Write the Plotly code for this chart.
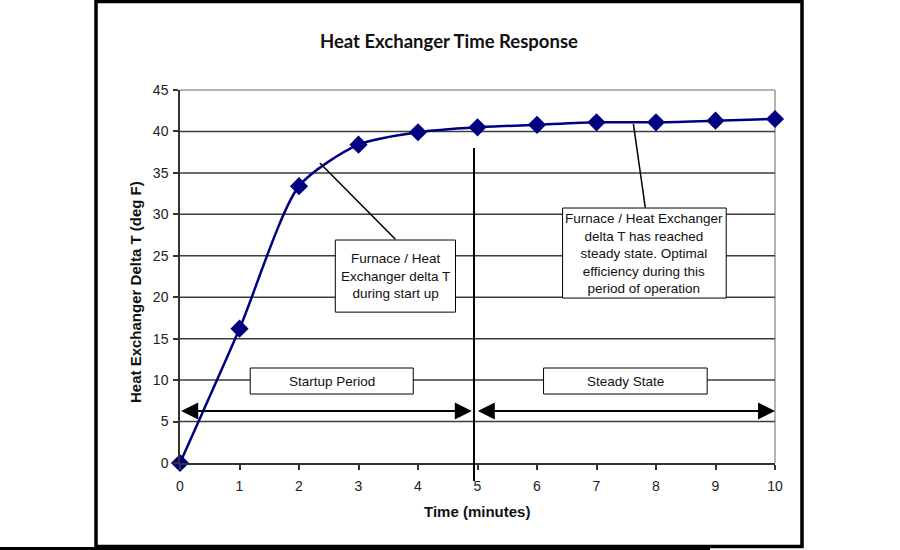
import plotly.graph_objects as go

# ---- data ----
time_min = [0, 1, 2, 3, 4, 5, 6, 7, 8, 9, 10]
delta_t = [0, 16.2, 33.4, 38.4, 39.9, 40.5, 40.8, 41.1, 41.1, 41.3, 41.5]
x_ticks = list(range(0, 11))
y_ticks = [0, 5, 10, 15, 20, 25, 30, 35, 40, 45]

title_text = "Heat Exchanger Time Response"
x_title = "Time (minutes)"
y_title = "Heat Exchanger Delta T (deg F)"
startup_label = "Startup Period"
steady_label = "Steady State"
startup_note = "Furnace / Heat<br>Exchanger delta T<br>during start up"
steady_note = "Furnace / Heat Exchanger<br>delta T has reached<br>steady state. Optimal<br>efficiency during this<br>period of operation"
split_time = 4.95

# plot area in pixels (for converting frame positions)
L, R, T, B = 180, 775, 90, 463
W, H = 900, 550


def px(xp):
    return (xp - L) / (R - L)


def py(yp):
    return (B - yp) / (B - T)


AX_FONT = "Liberation Sans, Arial, sans-serif"

fig = go.Figure()
fig.add_trace(go.Scatter(
    x=time_min, y=delta_t, mode="lines+markers",
    line=dict(color="#000080", width=2.5, shape="spline", smoothing=0.7),
    marker=dict(symbol="diamond", size=14, color="#000080"),
    cliponaxis=False, showlegend=False,
))

shapes = []
# grid lines (dark)
for v in y_ticks[1:-1]:
    shapes.append(dict(type="line", xref="x", yref="y", x0=0, x1=10, y0=v, y1=v,
                       line=dict(color="#3c3c3c", width=1.5), layer="below"))
# top and right border (gray)
shapes.append(dict(type="line", xref="paper", yref="paper", x0=0, x1=1, y0=1, y1=1,
                   line=dict(color="#9a9a9a", width=1.5), layer="below"))
shapes.append(dict(type="line", xref="paper", yref="paper", x0=1, x1=1, y0=0, y1=1,
                   line=dict(color="#9a9a9a", width=1.5), layer="below"))
# vertical divider
shapes.append(dict(type="line", xref="paper", yref="paper", x0=px(474), x1=px(474),
                   y0=py(481), y1=py(148), line=dict(color="black", width=2)))
# label boxes (data coords)
box_line = dict(color="black", width=1)
shapes.append(dict(type="rect", xref="x", yref="y", x0=1.18, x1=3.92, y0=8.32, y1=11.46,
                   line=box_line, fillcolor="white"))
shapes.append(dict(type="rect", xref="x", yref="y", x0=6.11, x1=8.86, y0=8.32, y1=11.46,
                   line=box_line, fillcolor="white"))
shapes.append(dict(type="rect", xref="x", yref="y", x0=2.61, x1=4.63, y0=18.2, y1=26.9,
                   line=box_line, fillcolor="white"))
shapes.append(dict(type="rect", xref="x", yref="y", x0=6.43, x1=9.18, y0=19.9, y1=30.76,
                   line=box_line, fillcolor="white"))
# callout lines
shapes.append(dict(type="line", xref="x", yref="y", x0=2.35, y0=36.2, x1=3.62, y1=27.0,
                   line=dict(color="black", width=1.5)))
shapes.append(dict(type="line", xref="x", yref="y", x0=7.62, y0=40.9, x1=7.82, y1=30.8,
                   line=dict(color="black", width=1.5)))
# outer frame
shapes.append(dict(type="rect", xref="paper", yref="paper", x0=px(96), x1=px(802),
                   y0=py(546.5), y1=py(1.5), line=dict(color="black", width=3.5)))
shapes.append(dict(type="line", xref="paper", yref="paper", x0=px(0), x1=px(710),
                   y0=py(548.5), y1=py(548.5), line=dict(color="black", width=3)))

box_font = dict(family=AX_FONT, size=13.5, color="#111")
annotations = [
    dict(x=(1.18 + 3.92) / 2, y=9.89, xref="x", yref="y", text=startup_label,
         showarrow=False, font=box_font),
    dict(x=(6.11 + 8.86) / 2, y=9.89, xref="x", yref="y", text=steady_label,
         showarrow=False, font=box_font),
    dict(x=(2.61 + 4.63) / 2, y=22.55, xref="x", yref="y", text=startup_note,
         showarrow=False, font=box_font),
    dict(x=(6.43 + 9.18) / 2, y=25.33, xref="x", yref="y", text=steady_note,
         showarrow=False, font=box_font),
    # double arrows
    dict(x=0.02, y=6.27, ax=split_time - 0.02, ay=6.27, xref="x", yref="y", axref="x", ayref="y",
         text="", showarrow=True, arrowhead=2, startarrowhead=2, arrowside="end+start",
         arrowwidth=2, arrowsize=1.7, startarrowsize=1.7, arrowcolor="black"),
    dict(x=10.0, y=6.27, ax=split_time + 0.03, ay=6.27, xref="x", yref="y", axref="x", ayref="y",
         text="", showarrow=True, arrowhead=2, startarrowhead=2, arrowside="end+start",
         arrowwidth=2, arrowsize=1.7, startarrowsize=1.7, arrowcolor="black"),
    # titles
    dict(x=px(449), y=py(41), xref="paper", yref="paper", text="<b>" + title_text + "</b>",
         showarrow=False, font=dict(family="Lato, Open Sans, sans-serif", size=18.5, color="#111"),
         xanchor="center", yanchor="middle"),
    dict(x=px(477), y=py(511), xref="paper", yref="paper", text="<b>" + x_title + "</b>",
         showarrow=False, font=dict(family=AX_FONT, size=15, color="#111"),
         xanchor="center", yanchor="middle"),
    dict(x=px(135), y=py(292), xref="paper", yref="paper", text="<b>" + y_title + "</b>",
         showarrow=False, font=dict(family=AX_FONT, size=15, color="#111"), textangle=-90,
         xanchor="center", yanchor="middle"),
]

fig.update_layout(
    width=W, height=H,
    margin=dict(l=L, r=W - R, t=T, b=H - B),
    paper_bgcolor="white", plot_bgcolor="white",
    shapes=shapes, annotations=annotations,
    xaxis=dict(range=[0, 10], tickvals=x_ticks, showgrid=False, zeroline=False,
               showline=True, linecolor="#333", linewidth=1.5,
               ticks="outside", ticklen=5, tickcolor="#333", tickwidth=1.5,
               ticklabelstandoff=4,
               tickfont=dict(family=AX_FONT, size=14, color="#222")),
    yaxis=dict(range=[0, 45], tickvals=y_ticks, showgrid=False, zeroline=False,
               showline=True, linecolor="#333", linewidth=1.5,
               ticks="outside", ticklen=5, tickcolor="#333", tickwidth=1.5,
               ticklabelstandoff=2,
               tickfont=dict(family=AX_FONT, size=14, color="#222")),
)

fig.write_html("out.html")
